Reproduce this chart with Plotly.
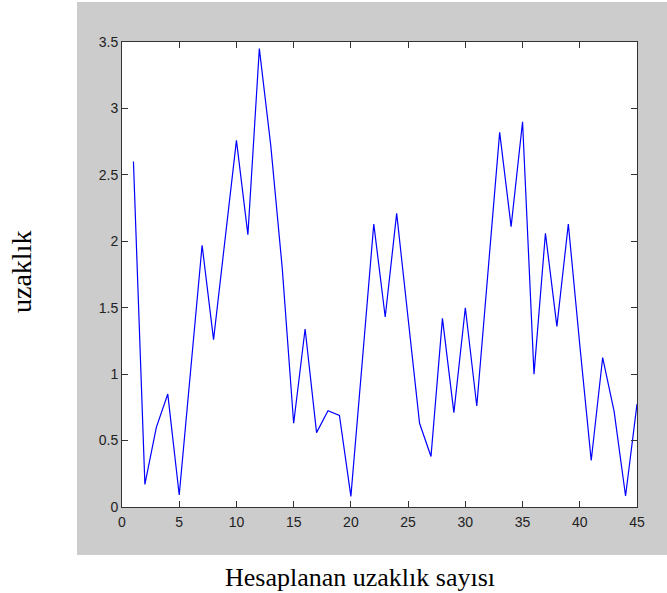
import plotly.graph_objects as go

x_vals = list(range(1, 46))
distance = [2.60, 0.17, 0.60, 0.85, 0.09, 1.02, 1.97, 1.26, 2.02, 2.76,
            2.05, 3.45, 2.72, 1.80, 0.63, 1.34, 0.56, 0.725, 0.69, 0.08,
            1.10, 2.13, 1.43, 2.21, 1.42, 0.63, 0.38, 1.42, 0.71, 1.50,
            0.76, 1.80, 2.82, 2.11, 2.90, 1.00, 2.06, 1.36, 2.13, 1.22,
            0.35, 1.125, 0.72, 0.083, 0.775]
x_ticks = [0, 5, 10, 15, 20, 25, 30, 35, 40, 45]
y_ticks = [0, 0.5, 1, 1.5, 2, 2.5, 3, 3.5]
x_title = "Hesaplanan uzaklık sayısı"
y_title = "uzaklık"

W, H = 667, 593
L, R, T, B = 122, 30, 42, 86
pw, ph = W - L - R, H - T - B

def px2x(px):
    return (px - L) / pw

def py2y(py):
    return (H - B - py) / ph

fig = go.Figure()
fig.add_trace(go.Scatter(x=x_vals, y=distance, mode="lines",
                         line=dict(color="#0000ff", width=1.2),
                         showlegend=False, hoverinfo="skip"))

fig.add_shape(type="rect", xref="paper", yref="paper",
              x0=px2x(77), x1=px2x(667), y0=py2y(555), y1=py2y(2),
              fillcolor="#cccccc", line=dict(width=0), layer="below")
fig.add_shape(type="rect", xref="paper", yref="paper",
              x0=0, x1=1, y0=0, y1=1,
              fillcolor="#ffffff", line=dict(width=0), layer="below")

axis_common = dict(showgrid=False, zeroline=False, showline=True,
                   linecolor="#333333", linewidth=1, mirror="ticks",
                   ticks="inside", ticklen=6, tickcolor="#333333",
                   tickwidth=1,
                   tickfont=dict(family="Liberation Sans, Arial", size=14,
                                 color="#222222"))

fig.update_xaxes(range=[0, 45], tickmode="array", tickvals=x_ticks,
                 ticktext=[str(v) for v in x_ticks], ticklabelstandoff=2,
                 **axis_common)
fig.update_yaxes(range=[0, 3.5], tickmode="array", tickvals=y_ticks,
                 ticktext=[("%g" % v) for v in y_ticks], **axis_common)

fig.add_annotation(xref="paper", yref="paper", x=px2x(359.5), y=py2y(577),
                   text=x_title, showarrow=False, xanchor="center",
                   yanchor="middle",
                   font=dict(family="Liberation Serif, Times New Roman",
                             size=26, color="#000000"))
fig.add_annotation(xref="paper", yref="paper", x=px2x(21), y=py2y(272),
                   text=y_title, showarrow=False, textangle=-90,
                   xanchor="center", yanchor="middle",
                   font=dict(family="Liberation Serif, Times New Roman",
                             size=28, color="#000000"))

fig.update_layout(width=W, height=H,
                  margin=dict(l=L, r=R, t=T, b=B, pad=0),
                  paper_bgcolor="#ffffff", plot_bgcolor="#ffffff")

fig.write_html("out.html")
